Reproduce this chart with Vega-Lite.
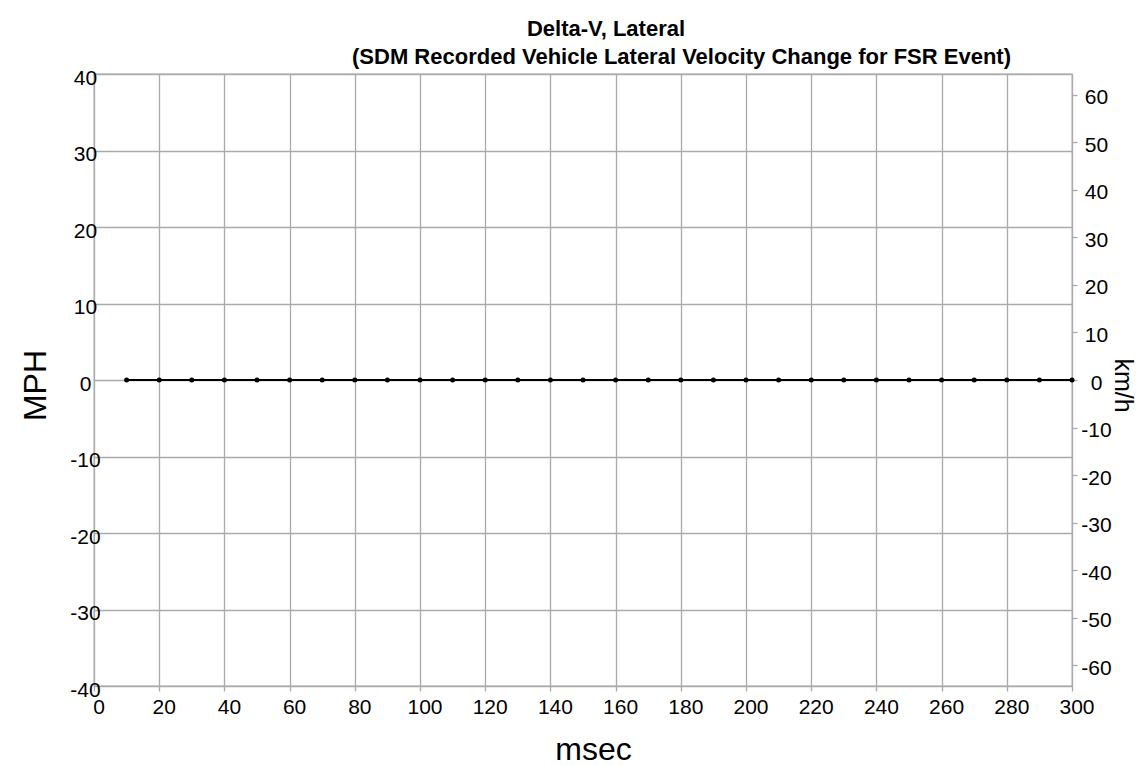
{
  "$schema": "https://vega.github.io/schema/vega-lite/v6.json",
  "width": 978,
  "height": 612,
  "autosize": "none",
  "padding": {"left": 94, "top": 74, "right": 73, "bottom": 80},
  "background": "white",
  "config": {
    "font": "Liberation Sans",
    "view": {"stroke": "#aaaaaa", "strokeWidth": 1.3},
    "axis": {
      "labelFont": "Liberation Sans",
      "labelFontSize": 21,
      "labelColor": "black",
      "labelExpr": "'' + datum.value",
      "titleFont": "Liberation Sans",
      "titleFontWeight": "normal",
      "titleColor": "black",
      "gridColor": "#aaaaaa",
      "gridWidth": 1.3,
      "gridOpacity": 1,
      "tickColor": "#aaaaaa",
      "tickWidth": 1.3,
      "domain": false,
      "labelFlush": false,
      "labelOverlap": false,
      "labelBound": false
    }
  },
  "title": {
    "text": "Delta-V, Lateral",
    "font": "Liberation Sans",
    "fontSize": 22,
    "fontWeight": "bold",
    "color": "black",
    "anchor": "middle",
    "frame": "group",
    "dx": 23,
    "offset": 4
  },
  "data": {
    "values": [
      {"ms": 10, "dv": 0}, {"ms": 20, "dv": 0}, {"ms": 30, "dv": 0}, {"ms": 40, "dv": 0}, {"ms": 50, "dv": 0},
      {"ms": 60, "dv": 0}, {"ms": 70, "dv": 0}, {"ms": 80, "dv": 0}, {"ms": 90, "dv": 0}, {"ms": 100, "dv": 0},
      {"ms": 110, "dv": 0}, {"ms": 120, "dv": 0}, {"ms": 130, "dv": 0}, {"ms": 140, "dv": 0}, {"ms": 150, "dv": 0},
      {"ms": 160, "dv": 0}, {"ms": 170, "dv": 0}, {"ms": 180, "dv": 0}, {"ms": 190, "dv": 0}, {"ms": 200, "dv": 0},
      {"ms": 210, "dv": 0}, {"ms": 220, "dv": 0}, {"ms": 230, "dv": 0}, {"ms": 240, "dv": 0}, {"ms": 250, "dv": 0},
      {"ms": 260, "dv": 0}, {"ms": 270, "dv": 0}, {"ms": 280, "dv": 0}, {"ms": 290, "dv": 0}, {"ms": 300, "dv": 0}
    ]
  },
  "layer": [
    {
      "encoding": {
        "x": {
          "field": "ms", "type": "quantitative",
          "scale": {"domain": [0, 300], "nice": false, "zero": false},
          "axis": {
            "orient": "bottom",
            "values": [0, 20, 40, 60, 80, 100, 120, 140, 160, 180, 200, 220, 240, 260, 280, 300],
            "grid": true, "ticks": true, "tickSize": 5,
            "labelPadding": 5, "labelOffset": 4.5,
            "title": "msec", "titleFontSize": 32,
            "titleX": 499, "titleY": 63, "titleBaseline": "middle", "titleAlign": "center"
          }
        },
        "y": {
          "field": "dv", "type": "quantitative",
          "scale": {"domain": [-40, 40], "nice": false, "zero": false},
          "axis": {
            "orient": "left",
            "values": [-40, -30, -20, -10, 0, 10, 20, 30, 40],
            "grid": true, "ticks": false, "tickSize": 0,
            "labelAlign": "center", "labelPadding": 9, "labelOffset": 4,
            "title": "MPH", "titleFontSize": 32, "titleAngle": -90,
            "titleX": -59, "titleY": 311, "titleBaseline": "middle", "titleAlign": "center"
          }
        }
      },
      "layer": [
        {"mark": {"type": "line", "color": "black", "strokeWidth": 2}},
        {"mark": {"type": "point", "filled": true, "color": "black", "size": 25, "opacity": 1}}
      ]
    },
    {
      "mark": {"type": "point", "opacity": 0},
      "encoding": {
        "x": {
          "field": "ms", "type": "quantitative",
          "scale": {"domain": [0, 300], "nice": false, "zero": false},
          "axis": {
            "orient": "top",
            "grid": false, "ticks": false, "labels": false, "domain": false,
            "title": "(SDM Recorded Vehicle Lateral Velocity Change for FSR Event)",
            "titleFontSize": 22, "titleFontWeight": "bold",
            "titleX": 587, "titleY": -18, "titleBaseline": "middle", "titleAlign": "center"
          }
        },
        "y": {
          "field": "dv", "type": "quantitative",
          "scale": {"domain": [-64.374, 64.374], "nice": false, "zero": false},
          "axis": {
            "orient": "right",
            "values": [-60, -50, -40, -30, -20, -10, 0, 10, 20, 30, 40, 50, 60],
            "grid": false, "ticks": true, "tickSize": 5,
            "labelAlign": "center", "labelPadding": 19, "labelOffset": 3,
            "title": "km/h", "titleFontSize": 25, "titleAngle": 90,
            "titleX": 50.5, "titleY": 311, "titleBaseline": "middle", "titleAlign": "center"
          }
        }
      }
    }
  ],
  "resolve": {"scale": {"y": "independent"}, "axis": {"x": "independent"}}
}
